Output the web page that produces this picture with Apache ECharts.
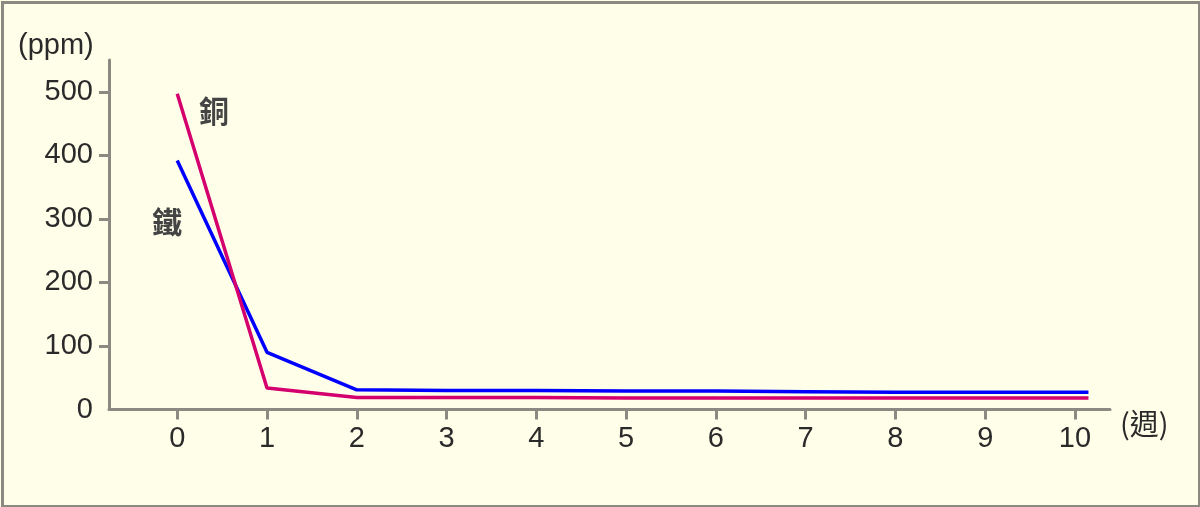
<!DOCTYPE html>
<html><head><meta charset="utf-8">
<script src="https://cdn.jsdelivr.net/npm/echarts@6/dist/echarts.min.js"></script>
<style>html,body{margin:0;padding:0;background:#fffee9;}#c{width:1200px;height:507px;}</style>
</head><body><div id="c"></div>
<script>
const weeks = [0, 1, 2, 3, 4, 5, 6, 7, 8, 9, 10, 10.15];
const copper = [497, 34, 19, 19, 19, 18, 18, 18, 18, 18, 18, 18];
const iron = [392, 90, 31, 30, 30, 29, 29, 28, 27, 27, 27, 27];
const xTicks = [0, 1, 2, 3, 4, 5, 6, 7, 8, 9, 10];
const yTicks = [0, 100, 200, 300, 400, 500];

const chart = echarts.init(document.getElementById('c'));
const font = '"Liberation Sans", Arial, sans-serif';
const axisColor = '#8a8a82';
chart.setOption({
  backgroundColor: '#fffee9',
  animation: false,
  grid: { left: 109, right: 90, top: 60, bottom: 97.5, containLabel: false },
  xAxis: {
    type: 'value', min: -0.76, max: 10.39,
    splitLine: { show: false },
    axisLine: { onZero: false, lineStyle: { color: axisColor, width: 3 } },
    axisTick: { show: true, customValues: xTicks, length: 10, lineStyle: { color: axisColor, width: 3 } },
    axisLabel: { customValues: xTicks, color: '#2a2a2a', fontSize: 29, fontFamily: font, margin: 15 }
  },
  yAxis: {
    type: 'value', min: 0, max: 550,
    splitLine: { show: false },
    axisLine: { show: true, onZero: false, lineStyle: { color: axisColor, width: 3 } },
    axisTick: { show: true, customValues: yTicks.slice(1), length: 10, lineStyle: { color: axisColor, width: 3 } },
    axisLabel: { customValues: yTicks, color: '#2a2a2a', fontSize: 29, fontFamily: font, margin: 16 }
  },
  series: [
    { name: '鐵', type: 'line', data: weeks.map((w, i) => [w, iron[i]]), symbol: 'none',
      lineStyle: { color: '#0000ff', width: 3.5 } },
    { name: '銅', type: 'line', data: weeks.map((w, i) => [w, copper[i]]), symbol: 'none',
      lineStyle: { color: '#d4006e', width: 3.5 } }
  ],
  graphic: [
    { type: 'rect', left: 0, top: 0, shape: { width: 1197, height: 504 }, style: { fill: 'none', stroke: '#8a8a80', lineWidth: 3 } , silent: true},
    { type: 'text', left: 18, top: 31, style: { text: '(ppm)', font: '29px ' + font, fill: '#2a2a2a' } },
    { type: 'text', left: 1120, top: 409, style: { text: '(週)', font: '29px "Noto Sans CJK TC", sans-serif', fill: '#2a2a2a' } },
    { type: 'text', left: 199, top: 96, style: { text: '銅', font: 'bold 30px "Noto Sans CJK TC", sans-serif', fill: '#444' } },
    { type: 'text', left: 152, top: 207, style: { text: '鐵', font: 'bold 30px "Noto Sans CJK TC", sans-serif', fill: '#444' } }
  ]
});
</script></body></html>
